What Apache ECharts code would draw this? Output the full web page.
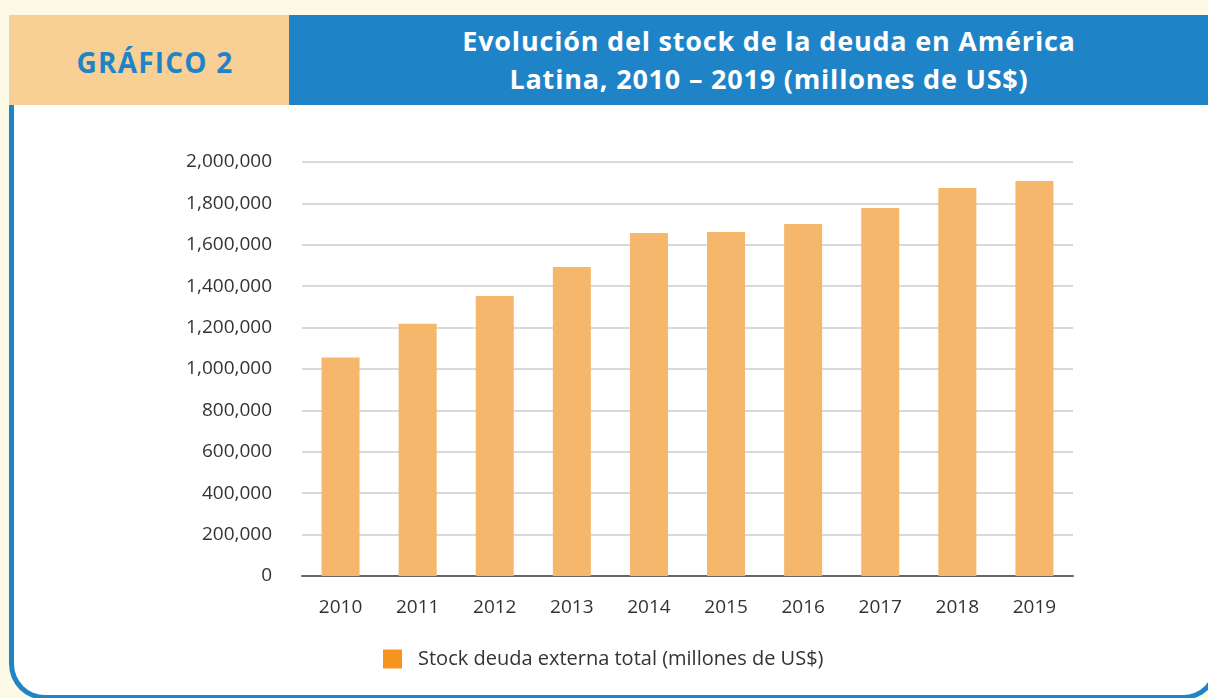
<!DOCTYPE html>
<html>
<head>
<meta charset="utf-8">
<script src="https://cdn.jsdelivr.net/npm/echarts@6/dist/echarts.min.js"></script>
<style>
  html, body { margin: 0; padding: 0; width: 1208px; height: 698px; overflow: hidden; background: #FDF9E7; }
  #panel { position: absolute; left: 9px; top: 105px; width: 1200px; height: 590px; background: #fff;
           border: 5px solid #1F84C7; border-top: none; border-radius: 0 0 36px 36px; }
  #tag { position: absolute; left: 9px; top: 15px; width: 280px; height: 90px; background: #F8CF95; }
  #tagtext { position: absolute; left: 15px; top: 42px; width: 280px; text-align: center;
         color: #1F84C7; font-family: "Open Sans", sans-serif; font-weight: 700; font-size: 28px;
         letter-spacing: 1.2px; line-height: 40px; }
  #head { position: absolute; left: 289px; top: 15px; width: 919px; height: 90px; background: #1F84C7; }
  #title { position: absolute; left: 289px; top: 22px; width: 960px; text-align: center; color: #fff;
           font-family: "Open Sans", sans-serif; font-weight: 700; font-size: 27px; line-height: 38px;
           letter-spacing: 0.8px; }
  #chart { position: absolute; left: 0; top: 0; width: 1208px; height: 698px; }
</style>
</head>
<body>
<div id="panel"></div>
<div id="tag"></div>
<div id="tagtext">GRÁFICO 2</div>
<div id="head"></div>
<div id="title">Evolución del stock de la deuda en América<br>Latina, 2010 – 2019 (millones de US$)</div>
<div id="chart"></div>
<script>
const years = ['2010','2011','2012','2013','2014','2015','2016','2017','2018','2019'];
const stock = [1055000, 1218000, 1353000, 1493000, 1657000, 1662000, 1700000, 1778000, 1874000, 1908000];
const seriesName = 'Stock deuda externa total (millones de US$)';
const yTicks = { min: 0, max: 2000000, interval: 200000 };

const chart = echarts.init(document.getElementById('chart'), null, { renderer: 'canvas' });
chart.setOption({
  backgroundColor: 'transparent',
  animation: false,
  textStyle: { fontFamily: 'Open Sans, sans-serif' },
  grid: { left: 302, right: 135, top: 162, bottom: 122, containLabel: false },
  legend: {
    left: 383, top: 649, padding: 0,
    itemWidth: 19, itemHeight: 19, itemGap: 10,
    textStyle: { fontSize: 20, color: '#333', padding: [0, 0, 0, 11] },
    data: [{ name: seriesName, icon: 'rect', itemStyle: { color: '#F7941D' } }]
  },
  xAxis: {
    type: 'category',
    data: years,
    axisLine: { lineStyle: { color: '#666', width: 2 } },
    axisTick: { show: false },
    axisLabel: { fontSize: 19, color: '#333', margin: 22 }
  },
  yAxis: {
    type: 'value',
    min: yTicks.min, max: yTicks.max, interval: yTicks.interval,
    axisLine: { show: false },
    axisTick: { show: false },
    splitLine: { lineStyle: { color: '#ccc', width: 1.5 } },
    axisLabel: {
      fontSize: 19, color: '#333', margin: 30,
      formatter: v => v.toLocaleString('en-US')
    }
  },
  series: [{
    name: seriesName,
    type: 'bar',
    data: stock,
    barWidth: 38,
    itemStyle: { color: '#F5B76B' }
  }]
});
</script>
</body>
</html>
